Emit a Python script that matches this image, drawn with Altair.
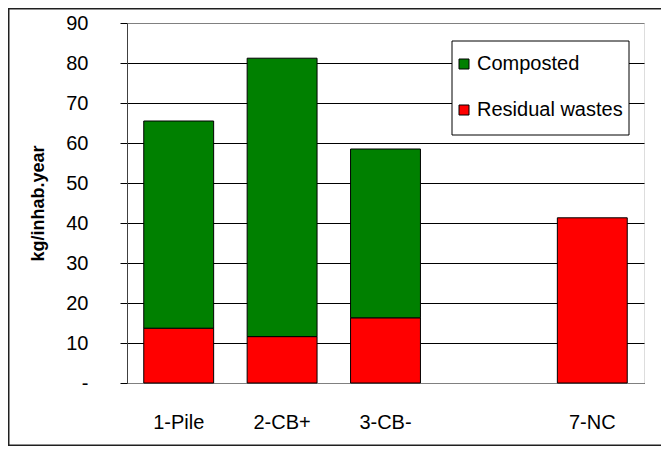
import altair as alt
import pandas as pd

categories = ['1-Pile', '2-CB+', '3-CB-', ' ', '7-NC']
bar_categories = ['1-Pile', '2-CB+', '3-CB-', '7-NC']
residual = [13.7, 11.6, 16.3, 41.3]
composted = [51.8, 69.6, 42.2, 0.0]
series = ['Composted', 'Residual wastes']
colors = ['#008000', '#FF0000']
y_ticks = list(range(0, 100, 10))

rows = []
for c, r, k in zip(bar_categories, residual, composted):
    rows.append({'cat': c, 'series': 'Residual wastes', 'value': r, 'ord': 0})
    if k > 0:
        rows.append({'cat': c, 'series': 'Composted', 'value': k, 'ord': 1})
df = pd.DataFrame(rows)

FONT = 'Liberation Sans'

bars = alt.Chart(df).mark_bar(stroke='black', strokeWidth=1).encode(
    x=alt.X('cat:N',
            scale=alt.Scale(domain=categories, paddingInner=0.324, paddingOuter=0.162),
            axis=alt.Axis(title=None, labelAngle=0, ticks=False, tickSize=0, labelPadding=29,
                          labelFontSize=20, labelColor='black', labelFont=FONT,
                          domainColor='#808080', grid=False)),
    y=alt.Y('value:Q', stack='zero',
            scale=alt.Scale(domain=[0, 90], nice=False),
            axis=alt.Axis(values=y_ticks, title='kg/inhab.year',
                          labelExpr="datum.value == 0 ? '-' : datum.label",
                          labelFontSize=20, labelColor='black', labelFont=FONT,
                          labelPadding=32, tickSize=7, tickColor='black',
                          domainColor='#404040',
                          gridColor={"condition": {"test": "datum.value == 90", "value": "#808080"}, "value": "black"},
                          gridWidth=1,
                          titleFontSize=18, titleFontWeight='bold', titleFont=FONT, titleColor='black',
                          titleX=-89, titleY=180, titleBaseline='middle', titleAngle=270)),
    color=alt.Color('series:N', scale=alt.Scale(domain=series, range=colors),
                    legend=alt.Legend(orient='none', legendX=327, legendY=31, title=None,
                                      symbolType='square', symbolSize=100,
                                      symbolStrokeColor='black', symbolStrokeWidth=1,
                                      labelFontSize=20, labelFont=FONT, labelColor='black',
                                      labelOffset=3, rowPadding=26, padding=0, labelLimit=300)),
    order=alt.Order('ord:Q', sort='ascending'),
)

one = pd.DataFrame({'z': [0]})

legend_box = alt.Chart(one).mark_rect(fill='white', stroke='black', strokeWidth=1).encode(
    x=alt.value(325), x2=alt.value(502), y=alt.value(18), y2=alt.value(112)
)

frame = alt.Chart(one).mark_rect(filled=False, stroke='#202020', strokeWidth=1.5).encode(
    x=alt.value(-118.25), x2=alt.value(700), y=alt.value(-14.25), y2=alt.value(422.25)
)

chart = alt.layer(bars, legend_box, frame).properties(
    width=517, height=360,
    autosize=alt.AutoSizeParams(type='none'),
    padding={'left': 119, 'top': 15, 'right': 17, 'bottom': 63},
).configure_view(stroke='#808080', strokeWidth=1).configure(font=FONT)

chart.save('out.html', embed_options={'renderer': 'svg', 'actions': False})
